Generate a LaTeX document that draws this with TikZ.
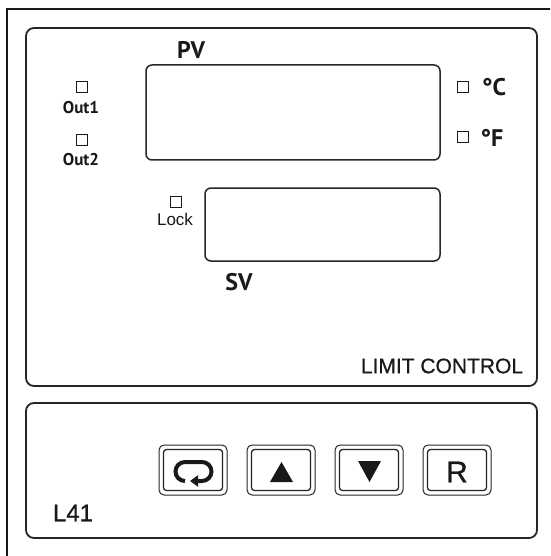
\documentclass[tikz,border=0pt]{standalone}
\usepackage{fontspec}
\setmainfont{Liberation Sans}
\newfontfamily\myr{PT Sans}
\newfontfamily\arl{Liberation Sans}[BoldFont={Liberation Sans}, BoldFeatures={FakeBold=0.8}]
\usetikzlibrary{arrows.meta}
\tikzset{
  frame/.style={line width=2pt, draw=black!90},
  panel/.style={line width=1.8pt, draw=black!85, rounded corners=8pt},
  disp/.style={line width=1.5pt, draw=black!85, rounded corners=6pt},
  led/.style={draw=black!90, line width=1.7pt, minimum size=11pt, inner sep=0pt},
  lbl/.style={inner sep=0pt, text=black!90},
  btnout/.style={draw=black!85, line width=1pt, rounded corners=5pt},
  btnin/.style={draw=black!85, line width=1.3pt, rounded corners=3pt},
}
\begin{document}
\begin{tikzpicture}[x=1pt,y=1pt]
\useasboundingbox (0,0) rectangle (550,-556);
\clip (0,0) rectangle (550,-556);
\fill[white] (0,0) rectangle (550,-556);
% outer frame
\draw[frame] (7,-600) -- (7,-9) -- (600,-9);
% panels
\draw[panel] (26,-28) rectangle (537,-386);
\draw[panel] (26,-403) rectangle (537,-538);
% displays
\node[disp, minimum width=294pt, minimum height=95pt, inner sep=0pt] (pv) at (293,-112.5) {};
\node[disp, minimum width=235pt, minimum height=73pt, inner sep=0pt] (sv) at (322.5,-224.5) {};
\node[lbl, font=\myr\bfseries\fontsize{24}{24}\selectfont] (pvl) at (191,-50) {PV};
\node[lbl, font=\myr\bfseries\fontsize{24}{24}\selectfont] (svl) at (239,-282) {SV};
% leds
\node[led] (o1) at (82,-87) {};
\node[lbl, font=\myr\bfseries\fontsize{17}{17}\selectfont] (o1l) at (81,-108) {Out1};
\node[led] (o2) at (82,-140) {};
\node[lbl, font=\myr\bfseries\fontsize{17}{17}\selectfont] (o2l) at (81,-160) {Out2};
\node[led] (lk) at (176,-202) {};
\node[lbl, font=\arl\fontsize{17}{17}\selectfont] (lkl) at (175,-219) {Lock};
\node[led] (c) at (463,-87) {};
\node[lbl, font=\myr\bfseries\fontsize{24}{24}\selectfont] (cl) at (494,-87) {°C};
\node[led] (f) at (463,-137) {};
\node[lbl, font=\myr\bfseries\fontsize{24}{24}\selectfont] (fl) at (492,-138) {°F};
\node[lbl, font=\arl\bfseries\fontsize{21}{21}\selectfont] (lc) at (442,-366) {LIMIT CONTROL};
\node[lbl, font=\arl\bfseries\fontsize{24}{24}\selectfont] (l41) at (73,-513) {L41};
% buttons
\foreach \n/\x in {b1/159, b2/247, b3/335, b4/423}{
  \draw[btnout] (\x,-445) rectangle ++(68,-50);
  \draw[btnin] (\x+4.5,-449.5) rectangle ++(59,-41);
}
% loop icon
\draw[line width=4pt, black!90, -{Triangle[length=8pt,width=11pt]}]
  (185,-481) arc(270:90:9.5) -- (202,-462) arc(90:-90:9.5) -- (190,-481);
% up / down triangles
\fill[black!90] (270,-482) -- (293,-482) -- (281.5,-462) -- cycle;
\fill[black!90] (358,-461) -- (381,-461) -- (369.5,-482) -- cycle;
\node[lbl, font=\arl\bfseries\fontsize{30}{30}\selectfont] (r) at (457,-472) {R};
\end{tikzpicture}
\end{document}
